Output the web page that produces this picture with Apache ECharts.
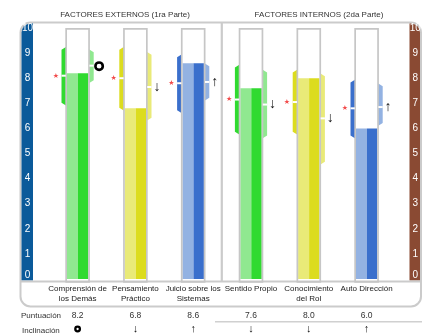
<!DOCTYPE html>
<html>
<head>
<meta charset="utf-8">
<script src="https://cdn.jsdelivr.net/npm/echarts@6/dist/echarts.min.js"></script>
<style>
  html, body { margin: 0; padding: 0; background: #fff; }
  #chart { width: 429px; height: 335px; }
</style>
</head>
<body>
<div id="chart"></div>
<script>
// Factor names (x categories)
const categories = [
  'Comprensión de\nlos Demás',
  'Pensamiento\nPráctico',
  'Juicio sobre los\nSistemas',
  'Sentido Propio',
  'Conocimiento\ndel Rol',
  'Auto Dirección'
];
// Score of each factor (filled tube height)
const scores = [8.2, 6.8, 8.6, 7.6, 8.0, 6.0];
// Left band: reference mark (star) and its range
const leftMark = [8.1, 8.0, 7.8, 7.15, 7.05, 6.8];
const leftLow  = [6.9, 6.7, 6.6, 5.75, 5.75, 5.6];
const leftHigh = [9.25, 9.25, 8.95, 8.55, 8.35, 7.95];
// Right band: tendency mark and its range
const rightMark = [8.5, 7.65, 7.85, 6.95, 6.4, 6.85];
const rightLow  = [7.8, 6.3, 7.1, 5.6, 4.55, 6.1];
const rightHigh = [9.15, 9.05, 8.6, 8.35, 8.2, 7.8];
// Tendency per factor: 'o' = stable, 'down', 'up'
const tendency = ['o', 'down', 'up', 'down', 'down', 'up'];
// Colour family per factor
const families = ['green', 'yellow', 'blue', 'green', 'yellow', 'blue'];
// Scale
const yMin = 0, yMax = 10, yStep = 1;

const COLORS = {
  green:  { dark: '#30da30', light: '#90e890' },
  yellow: { dark: '#dcdc1e', light: '#e9ea78' },
  blue:   { dark: '#3a6fcc', light: '#93b2e2' }
};
const ARROW = { up: '↑', down: '↓' };

const seriesData = scores.map((s, i) => [
  i, s, leftLow[i], leftMark[i], leftHigh[i], rightLow[i], rightMark[i], rightHigh[i]
]);

function renderTube(params, api) {
  const i = params.dataIndex;
  const fam = COLORS[families[i]];
  const cx = api.coord([i, 0])[0];
  const yBase = api.coord([i, yMin])[1];
  const yTop = api.coord([i, yMax])[1];
  const y = v => api.coord([i, v])[1];
  const yVal = y(api.value(1));
  const lLo = y(api.value(2)), lMk = y(api.value(3)), lHi = y(api.value(4));
  const rLo = y(api.value(5)), rMk = y(api.value(6)), rHi = y(api.value(7));

  const half = 12.3, bw = 3.8, bev = 3;
  const inL = cx - half, outL = inL - bw;
  const inR = cx + half, outR = inR + bw;
  const children = [];

  // left range band (dark), bevelled on the outer side
  children.push({
    type: 'polygon',
    shape: { points: [[inL + 1, lHi], [outL, lHi + bev], [outL, lLo - bev], [inL + 1, lLo]] },
    style: { fill: fam.dark }
  });
  // right range band (light)
  children.push({
    type: 'polygon',
    shape: { points: [[inR - 1, rHi], [outR, rHi + bev], [outR, rLo - bev], [inR - 1, rLo]] },
    style: { fill: fam.light }
  });
  // tube fill, two tones
  children.push({
    type: 'rect',
    shape: { x: cx - 10.7, y: yVal, width: 11, height: yBase - yVal },
    style: { fill: fam.light }
  });
  children.push({
    type: 'rect',
    shape: { x: cx + 0.3, y: yVal, width: 10.4, height: yBase - yVal },
    style: { fill: fam.dark }
  });
  // tube outline
  children.push({
    type: 'rect',
    shape: { x: inL + 0.85, y: yTop + 0.85, width: 2 * half - 1.7, height: yBase - yTop + 2 },
    style: { fill: 'none', stroke: '#c6c6c6', lineWidth: 1.7 }
  });
  // white ticks on the bands
  children.push({
    type: 'line',
    shape: { x1: outL, y1: lMk, x2: inL + 0.5, y2: lMk },
    style: { stroke: '#fff', lineWidth: 2 }
  });
  children.push({
    type: 'line',
    shape: { x1: inR - 0.5, y1: rMk, x2: outR, y2: rMk },
    style: { stroke: '#fff', lineWidth: 2 }
  });
  // star beside the left mark
  children.push({
    type: 'text',
    style: {
      text: '★', x: inL - 9.5, y: lMk, align: 'center', verticalAlign: 'middle',
      fontSize: 7, fontFamily: 'DejaVu Sans', fill: '#f24a4a'
    }
  });
  // tendency marker beside the right mark
  const mx = inR + 9.2;
  if (tendency[i] === 'o') {
    children.push({
      type: 'circle',
      shape: { cx: mx, cy: rMk + 0.5, r: 3.7 },
      style: { fill: 'none', stroke: '#000', lineWidth: 2.6 }
    });
  } else {
    children.push({
      type: 'text',
      style: {
        text: ARROW[tendency[i]], x: mx, y: rMk, align: 'center', verticalAlign: 'middle',
        fontSize: 14, fontFamily: 'Liberation Sans', fill: '#111'
      }
    });
  }
  return { type: 'group', children };
}

const chart = echarts.init(document.getElementById('chart'), null, { renderer: 'canvas' });

const GRID = { left: 48.7, right: 33.5, top: 28, bottom: 55 };
const labelFont = 'Liberation Sans, Arial, sans-serif';

chart.setOption({
  animation: false,
  backgroundColor: '#fff',
  grid: { left: GRID.left, right: GRID.right, top: GRID.top, bottom: GRID.bottom, containLabel: false },
  graphic: [
    { type: 'rect', z: -10, silent: true,
      shape: { x: 20.5, y: 22.5, width: 400.5, height: 284, r: 10 },
      style: { fill: '#fff', stroke: '#cbcbcb', lineWidth: 2 } },
    { type: 'rect', z: -9, silent: true,
      shape: { x: 21.5, y: 23.5, width: 11.5, height: 257, r: [9, 0, 0, 0] },
      style: { fill: '#0b5a9a' } },
    { type: 'rect', z: -9, silent: true,
      shape: { x: 409.5, y: 23.5, width: 10.5, height: 257, r: [0, 9, 0, 0] },
      style: { fill: '#8a4a33' } },
    { type: 'line', z: -9, silent: true,
      shape: { x1: 20.5, y1: 281.5, x2: 421, y2: 281.5 },
      style: { stroke: '#cbcbcb', lineWidth: 2 } },
    { type: 'line', z: -9, silent: true,
      shape: { x1: 221.8, y1: 23, x2: 221.8, y2: 281 },
      style: { stroke: '#cbcbcb', lineWidth: 2.2 } },
    { type: 'line', z: -9, silent: true,
      shape: { x1: 215, y1: 321.8, x2: 422, y2: 321.8 },
      style: { stroke: '#d0d0d0', lineWidth: 1.5 } },
    { type: 'text', silent: true,
      style: { text: 'FACTORES EXTERNOS (1ra Parte)', x: 125, y: 14.5, align: 'center', verticalAlign: 'middle',
               fontSize: 8, fontFamily: labelFont, fill: '#333' } },
    { type: 'text', silent: true,
      style: { text: 'FACTORES INTERNOS (2da Parte)', x: 319, y: 14.5, align: 'center', verticalAlign: 'middle',
               fontSize: 8, fontFamily: labelFont, fill: '#333' } },
    { type: 'text', silent: true,
      style: { text: 'Puntuación', x: 21, y: 316, align: 'left', verticalAlign: 'middle',
               fontSize: 8, fontFamily: labelFont, fill: '#333' } },
    { type: 'text', silent: true,
      style: { text: 'Inclinación', x: 22, y: 330.5, align: 'left', verticalAlign: 'middle',
               fontSize: 8, fontFamily: labelFont, fill: '#333' } }
  ],
  xAxis: [
    {
      type: 'category', data: categories, boundaryGap: true,
      axisLine: { show: false }, axisTick: { show: false }, splitLine: { show: false },
      axisLabel: { interval: 0, margin: 5.5, fontSize: 8, lineHeight: 9.5, color: '#222', fontFamily: labelFont }
    },
    {
      type: 'category', data: categories, position: 'bottom', offset: 27,
      axisLine: { show: false }, axisTick: { show: false },
      axisLabel: { interval: 0, margin: 5, fontSize: 8.5, color: '#333', fontFamily: labelFont,
                   formatter: (v, idx) => scores[idx].toFixed(1) }
    },
    {
      type: 'category', data: categories, position: 'bottom', offset: 40,
      axisLine: { show: false }, axisTick: { show: false },
      axisLabel: {
        interval: 0, margin: 4, fontSize: 11, lineHeight: 12, color: '#111', fontFamily: labelFont,
        formatter: (v, idx) => tendency[idx] === 'o' ? '{o|}' : ARROW[tendency[idx]],
        rich: { o: { width: 4.6, height: 4.6, borderColor: '#000', borderWidth: 2.3, borderRadius: 4,
                     verticalAlign: 'middle', fontSize: 4, lineHeight: 12, padding: [0, 0, 0, 0] } }
      }
    }
  ],
  yAxis: [
    {
      type: 'value', min: yMin, max: yMax, interval: yStep, position: 'left',
      axisLine: { show: false }, axisTick: { show: false }, splitLine: { show: false },
      axisLabel: {
        align: 'center', margin: 21.2, fontSize: 10, color: '#fff', fontFamily: labelFont,
        formatter: v => v === yMin ? '{lo|' + v + '}' : String(v),
        rich: { lo: { fontSize: 10, color: '#fff', fontFamily: labelFont, padding: [0, 0, 7, 0] } }
      }
    },
    {
      type: 'value', min: yMin, max: yMax, interval: yStep, position: 'right',
      axisLine: { show: false }, axisTick: { show: false }, splitLine: { show: false },
      axisLabel: {
        align: 'center', margin: 19.8, fontSize: 10, color: '#fff', fontFamily: labelFont,
        formatter: v => v === yMin ? '{lo|' + v + '}' : String(v),
        rich: { lo: { fontSize: 10, color: '#fff', fontFamily: labelFont, padding: [0, 0, 7, 0] } }
      }
    }
  ],
  series: [
    {
      type: 'custom',
      renderItem: renderTube,
      data: seriesData,
      encode: { x: 0, y: 1 },
      clip: false,
      silent: true
    }
  ]
});
</script>
</body>
</html>
